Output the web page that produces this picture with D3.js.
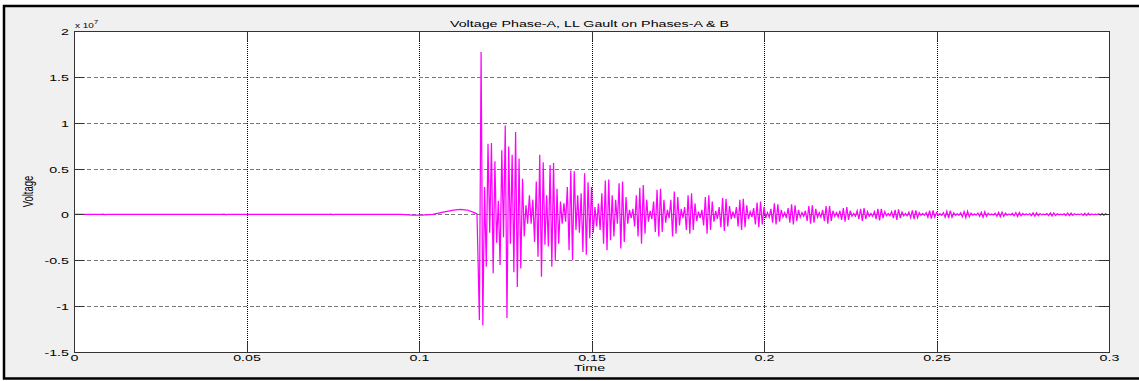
<!DOCTYPE html>
<html>
<head>
<meta charset="utf-8">
<script src="https://cdn.jsdelivr.net/npm/d3@7"></script>
<style>
  html, body { margin: 0; padding: 0; background: #fff; }
  svg text { font-family: "Liberation Sans", Arial, sans-serif; fill: #000; }
</style>
</head>
<body>
<svg id="chart" width="1139" height="381"></svg>
<script>
// tick values / labels
const xTicks = [0, 0.05, 0.1, 0.15, 0.2, 0.25, 0.3];
const xTickLabels = ['0', '0.05', '0.1', '0.15', '0.2', '0.25', '0.3'];
const yTicks = [-1.5, -1, -0.5, 0, 0.5, 1, 1.5, 2];
const yTickLabels = ['-1.5', '-1', '-0.5', '0', '0.5', '1', '1.5', '2'];

// voltage in units of 1e7, before the fault: [time, value]
const preFault = [
  [0, 0], [0.0080, 0], [0.0085, 0.003], [0.0090, -0.003], [0.0095, 0],
  [0.0430, 0], [0.0435, 0.003], [0.0440, -0.003], [0.0445, 0],
  [0.0740, 0], [0.0745, 0.003], [0.0750, -0.003], [0.0755, 0],
  [0.0950, 0], [0.0980, -0.008], [0.1010, -0.008], [0.1040, 0.0],
  [0.1070, 0.025], [0.1100, 0.048], [0.1120, 0.055], [0.1140, 0.048],
  [0.1160, 0.02], [0.1168, 0.005]
];

// after the fault: samples every faultStep seconds from faultStart (units of 1e7)
const faultStart = 0.117;
const faultStep = 0.0005;
const faultValues = [
  -0.30, -1.15, 1.77, -1.21, 0.30, -0.57, 0.77, -0.20, 0.78, -0.64,
  0.58, -0.31, 0.15, -0.55, 0.70, -0.25, 0.97, -1.13, 0.74, -0.32,
  0.65, -0.63, 0.90, -0.79, 0.61, -0.59, 0.39, -0.24, 0.10, -0.10,
  0.21, -0.10, 0.16, -0.30, 0.36, -0.46, 0.65, -0.68, 0.57, -0.33,
  0.21, -0.35, 0.54, -0.57, 0.56, -0.50, 0.28, -0.32, 0.14, -0.10,
  0.12, -0.08, 0.30, -0.39, 0.48, -0.50, 0.47, -0.17, 0.21, -0.20,
  0.23, -0.41, 0.45, -0.44, 0.35, -0.26, 0.30, -0.20, 0.08, -0.13,
  0.12, -0.17, 0.23, -0.32, 0.37, -0.39, 0.38, -0.28, 0.21, -0.24,
  0.16, -0.10, 0.34, -0.37, 0.36, -0.30, 0.19, -0.10, 0.05, -0.04,
  0.06, -0.13, 0.21, -0.24, 0.29, -0.32, 0.32, -0.21, 0.16, -0.08,
  0.04, -0.05, 0.14, -0.19, 0.27, -0.24, 0.28, -0.19, 0.16, -0.09,
  0.05, -0.04, 0.16, -0.24, 0.25, -0.21, 0.19, -0.12, 0.06, -0.04,
  0.08, -0.17, 0.21, -0.21, 0.23, -0.17, 0.12, -0.07, 0.03, -0.04,
  0.05, -0.12, 0.19, -0.21, 0.21, -0.17, 0.14, -0.08, 0.04, -0.05,
  0.08, -0.14, 0.18, -0.18, 0.17, -0.13, 0.09, -0.05, 0.03, -0.04,
  0.08, -0.13, 0.16, -0.17, 0.17, -0.14, 0.10, -0.05, 0.03, -0.03,
  0.07, -0.11, 0.13, -0.14, 0.14, -0.11, 0.08, -0.04, 0.02, -0.03,
  0.06, -0.09, 0.12, -0.11, 0.11, -0.08, 0.05, -0.03, 0.02, -0.04,
  0.07, -0.09, 0.11, -0.11, 0.10, -0.07, 0.05, -0.03, 0.02, -0.02,
  0.04, -0.07, 0.09, -0.10, 0.10, -0.09, 0.06, -0.03, 0.02, -0.03,
  0.05, -0.07, 0.09, -0.10, 0.09, -0.07, 0.04, -0.02, 0.02, -0.03,
  0.04, -0.06, 0.07, -0.08, 0.08, -0.06, 0.04, -0.02, 0.01, -0.02,
  0.04, -0.05, 0.06, -0.07, 0.07, -0.05, 0.03, -0.02, 0.01, -0.02,
  0.03, -0.05, 0.06, -0.065, 0.06, -0.04, 0.03, -0.015, 0.01, -0.015,
  0.03, -0.04, 0.05, -0.06, 0.055, -0.04, 0.025, -0.015, 0.01, -0.015,
  0.025, -0.035, 0.045, -0.05, 0.045, -0.035, 0.02, -0.01, 0.01, -0.01,
  0.02, -0.03, 0.04, -0.045, 0.045, -0.03, 0.02, -0.01, 0.008, -0.01,
  0.02, -0.03, 0.035, -0.04, 0.04, -0.03, 0.018, -0.01, 0.008, -0.01,
  0.018, -0.025, 0.03, -0.035, 0.035, -0.025, 0.015, -0.008, 0.006, -0.008,
  0.015, -0.02, 0.025, -0.03, 0.03, -0.02, 0.012, -0.006, 0.005, -0.006,
  0.012, -0.018, 0.022, -0.025, 0.025, -0.02, 0.015, -0.008, 0.005, -0.006,
  0.012, -0.016, 0.02, -0.022, 0.022, -0.016, 0.01, -0.005, 0.004, -0.005,
  0.01, -0.014, 0.018, -0.018, 0.018, -0.014, 0.009, -0.004, 0.003, -0.004,
  0.009, -0.012, 0.016, -0.016, 0.016, -0.012, 0.008, -0.004, 0.003, -0.004,
  0.008, -0.011, 0.014, -0.014, 0.014, -0.011, 0.007, -0.003, 0.002, -0.003,
  0.007, -0.01, 0.012, -0.012, 0.012, -0.009, 0.006, -0.003, 0.002, -0.003,
  0.007, -0.009, 0.011, -0.011, 0.009, -0.006
];

const titleText = 'Voltage Phase-A, LL Gault on Phases-A & B';
const xLabelText = 'Time';
const yLabelText = 'Voltage';

const svg = d3.select('#chart');
const W = 1139, H = 381;
const pLeft = 74, pRight = 1109, pTop = 31, pBottom = 352;
const stretch = 1.5;   // text in the picture is wider than tall
const fontSize = 9.5;

// figure background + frame
svg.append('rect').attr('width', W).attr('height', H).attr('fill', '#fff');
svg.append('rect').attr('x', 3).attr('y', 5).attr('width', W - 3).attr('height', 374)
  .attr('fill', '#f0f0f0');
svg.append('path')
  .attr('d', 'M' + W + ',6 H4 V378.5 H' + W)
  .attr('fill', 'none').attr('stroke', '#000').attr('stroke-width', 2.5);

const x = d3.scaleLinear().domain([0, 0.3]).range([pLeft, pRight]);
const y = d3.scaleLinear().domain([-1.5, 2]).range([pBottom, pTop]);

svg.append('rect').attr('x', pLeft).attr('y', pTop)
  .attr('width', pRight - pLeft).attr('height', pBottom - pTop).attr('fill', '#fff');

// grid
const vGrid = svg.append('g')
  .attr('transform', 'translate(0,' + pBottom + ')')
  .call(d3.axisBottom(x).tickValues(xTicks).tickSize(-(pBottom - pTop)).tickFormat(''));
vGrid.select('.domain').remove();
vGrid.selectAll('line').attr('stroke', '#000').attr('stroke-dasharray', '1,1').attr('shape-rendering', 'crispEdges');

const hGrid = svg.append('g')
  .attr('transform', 'translate(' + pLeft + ',0)')
  .call(d3.axisLeft(y).tickValues(yTicks).tickSize(-(pRight - pLeft)).tickFormat(''));
hGrid.select('.domain').remove();
hGrid.selectAll('line').attr('stroke', '#777').attr('stroke-dasharray', '4,2.5').attr('shape-rendering', 'crispEdges');

// signal
const points = preFault.map(d => ({ t: d[0], v: d[1] }))
  .concat(faultValues.map((v, i) => ({ t: faultStart + i * faultStep, v: v })));

svg.append('clipPath').attr('id', 'plotClip')
  .append('rect').attr('x', pLeft).attr('y', pTop).attr('width', pRight - pLeft).attr('height', pBottom - pTop);

svg.append('path')
  .datum(points)
  .attr('clip-path', 'url(#plotClip)')
  .attr('fill', 'none')
  .attr('stroke', '#ff00ff')
  .attr('stroke-width', 1.25)
  .attr('d', d3.line().x(d => x(d.t)).y(d => y(d.v)));

// inside ticks on all four sides
const tickLen = 10;
function styleAxis(g) {
  g.select('.domain').remove();
  g.selectAll('line').attr('stroke', '#333').attr('shape-rendering', 'crispEdges');
}
const xAxisB = svg.append('g').attr('transform', 'translate(0,' + pBottom + ')')
  .call(d3.axisBottom(x).tickValues(xTicks).tickSize(-tickLen).tickPadding(0)
    .tickFormat((d, i) => xTickLabels[i]));
styleAxis(xAxisB);
svg.append('g').attr('transform', 'translate(0,' + pTop + ')')
  .call(d3.axisTop(x).tickValues(xTicks).tickSize(-tickLen).tickFormat('')).call(styleAxis);
const yAxisL = svg.append('g').attr('transform', 'translate(' + pLeft + ',0)')
  .call(d3.axisLeft(y).tickValues(yTicks).tickSize(-tickLen).tickPadding(0)
    .tickFormat((d, i) => yTickLabels[i]));
styleAxis(yAxisL);
svg.append('g').attr('transform', 'translate(' + pRight + ',0)')
  .call(d3.axisRight(y).tickValues(yTicks).tickSize(-tickLen).tickFormat('')).call(styleAxis);

// box
svg.append('rect').attr('x', pLeft).attr('y', pTop)
  .attr('width', pRight - pLeft).attr('height', pBottom - pTop)
  .attr('fill', 'none').attr('stroke', '#333').attr('shape-rendering', 'crispEdges');

// tick label styling (stretched text)
xAxisB.selectAll('text')
  .attr('font-size', fontSize).attr('fill', '#000')
  .attr('x', 0).attr('y', 9.5).attr('dy', null)
  .attr('transform', 'scale(' + stretch + ',1)');
yAxisL.selectAll('text')
  .attr('font-size', fontSize).attr('fill', '#000')
  .attr('x', -5 / stretch).attr('y', 3.5).attr('dy', null)
  .attr('transform', 'scale(' + stretch + ',1)');
xAxisB.attr('font-family', null);
yAxisL.attr('font-family', null);

function stretchedText(tx, ty, str, anchor, rotate) {
  return svg.append('text')
    .attr('transform', 'translate(' + tx + ',' + ty + ') scale(' + stretch + ',1)' + (rotate ? ' rotate(-90)' : ''))
    .attr('text-anchor', anchor)
    .attr('font-size', fontSize)
    .text(str);
}

stretchedText((pLeft + pRight) / 2 - 2, 27, titleText, 'middle');
stretchedText((pLeft + pRight) / 2 - 2, 371, xLabelText, 'middle');
stretchedText(33, (pTop + pBottom) / 2, yLabelText, 'middle', true);

// exponent label
const expo = svg.append('text')
  .attr('transform', 'translate(75,28) scale(1.25,1)')
  .attr('font-size', 8);
expo.append('tspan').text('x 10');
expo.append('tspan').attr('font-size', 6).attr('dy', -4).text('7');
</script>
</body>
</html>
